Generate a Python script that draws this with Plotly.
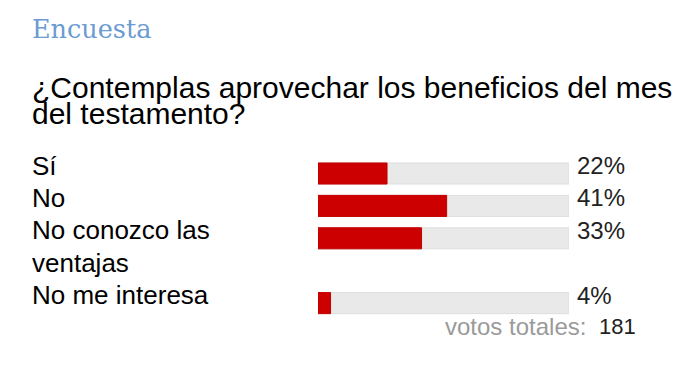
import textwrap
import plotly.graph_objects as go

# ---- data ----
title_text = "Encuesta"
question_lines = ["¿Contemplas aprovechar los beneficios del mes", "del testamento?"]
options = ["Sí", "No", "No conozco las ventajas", "No me interesa"]
percents = [22, 41, 33, 4]
total_label = "votos totales:"
total_votes = 181

# ---- layout helpers ----
W, H = 687, 370
PITCH = 32.4          # px per text line
CENTER0 = 173.5       # px of first bar center
SCALE_MAX = 80        # value mapped to full track
LABEL_WRAP = 15

def px(x):
    return x / W

def py(y):
    return 1 - y / H

# wrap option labels and compute line index of each option
wrapped = [textwrap.wrap(o, LABEL_WRAP) for o in options]
line_idx = []
cur = 0
for w in wrapped:
    line_idx.append(cur)
    cur += len(w)

fig = go.Figure()
fig.add_trace(go.Bar(
    y=line_idx, x=[SCALE_MAX] * len(options), orientation="h",
    marker=dict(color="#e9e9e9", line=dict(color="#dedede", width=1)),
    width=0.65, hoverinfo="skip", showlegend=False))
fig.add_trace(go.Bar(
    y=line_idx, x=percents, orientation="h",
    marker=dict(color="#cc0000", line=dict(color="#c40000", width=1)),
    width=0.65, showlegend=False))

ann = []
ann.append(dict(text=title_text, x=px(30), y=py(29), xref="paper", yref="paper",
                xanchor="left", yanchor="middle", showarrow=False,
                font=dict(family="DejaVu Serif", size=25.5, color="#6b9bd2")))
for i, line in enumerate(question_lines):
    ann.append(dict(text=line, x=px(30), y=py(87 + i * 26), xref="paper", yref="paper",
                    xanchor="left", yanchor="middle", showarrow=False,
                    font=dict(family="Liberation Sans, Arial", size=30, color="#000000")))
for li, w in zip(line_idx, wrapped):
    for k, line in enumerate(w):
        ann.append(dict(text=line, x=px(30), y=li + k, xref="paper", yref="y",
                        xanchor="left", yanchor="middle", yshift=8, showarrow=False,
                        font=dict(family="Liberation Sans, Arial", size=26, color="#000000")))
for li, p in zip(line_idx, percents):
    ann.append(dict(text=f"{p}%", x=px(575), y=li, xref="paper", yref="y",
                    xanchor="left", yanchor="middle", yshift=8, showarrow=False,
                    font=dict(family="Liberation Sans, Arial", size=24, color="#222222")))
ann.append(dict(text=total_label, x=px(588), y=py(326), xref="paper", yref="paper",
                xanchor="right", yanchor="middle", showarrow=False,
                font=dict(family="Liberation Sans, Arial", size=24, color="#9a9a9a")))
ann.append(dict(text=str(total_votes), x=px(597), y=py(326), xref="paper", yref="paper",
                xanchor="left", yanchor="middle", showarrow=False,
                font=dict(family="Liberation Sans, Arial", size=22, color="#222222")))

fig.update_layout(
    width=W, height=H, autosize=False,
    margin=dict(l=0, r=0, t=0, b=0, pad=0),
    paper_bgcolor="white", plot_bgcolor="white",
    barmode="overlay", bargap=0,
    xaxis=dict(domain=[px(318), px(569)], range=[0, SCALE_MAX], visible=False, fixedrange=True),
    yaxis=dict(domain=[0, 1], range=[(H - CENTER0) / PITCH, -CENTER0 / PITCH],
               visible=False, fixedrange=True),
    annotations=ann,
    showlegend=False,
    hovermode=False,
)
fig.write_html("out.html", config={"displayModeBar": False, "staticPlot": True},
               post_script="document.body.style.margin='0px';")
